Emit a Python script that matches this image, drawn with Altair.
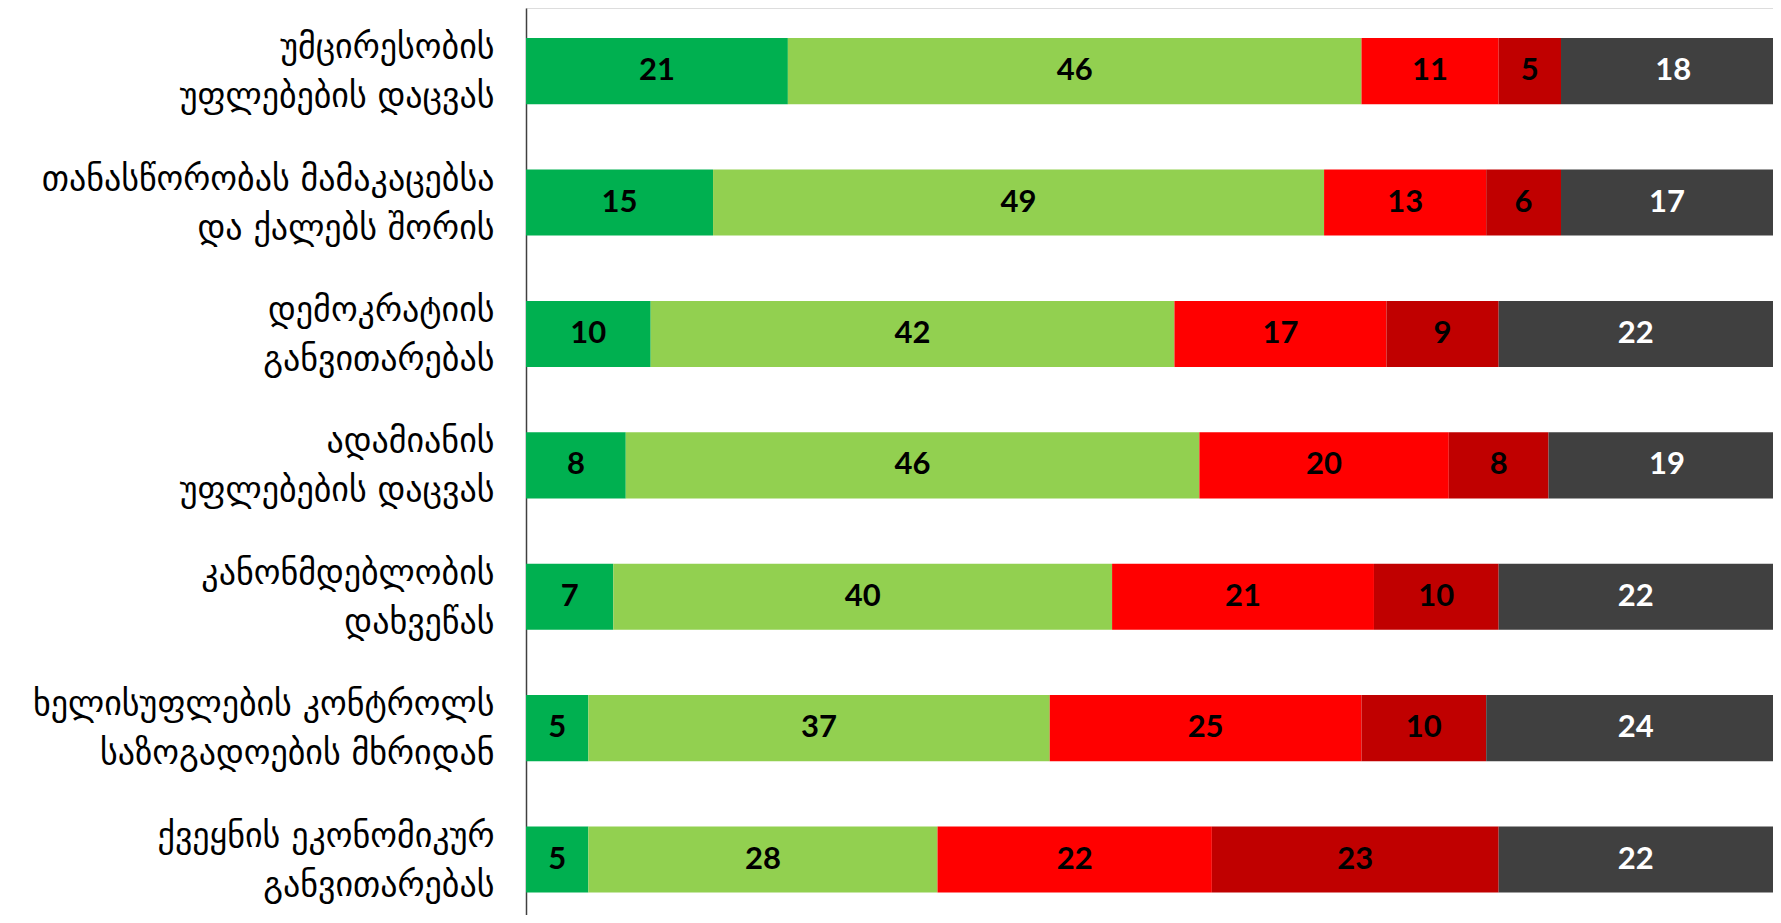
import altair as alt
import pandas as pd

categories = [
    "უმცირესობის|უფლებების დაცვას",
    "თანასწორობას მამაკაცებსა|და ქალებს შორის",
    "დემოკრატიის|განვითარებას",
    "ადამიანის|უფლებების დაცვას",
    "კანონმდებლობის|დახვეწას",
    "ხელისუფლების კონტროლს|საზოგადოების მხრიდან",
    "ქვეყნის ეკონომიკურ|განვითარებას",
]
series = ["s1", "s2", "s3", "s4", "s5"]
colors = ["#00B050", "#92D050", "#FF0000", "#C00000", "#404040"]
text_colors = ["#000000", "#000000", "#000000", "#000000", "#FFFFFF"]

dark_green = [21, 15, 10, 8, 7, 5, 5]
light_green = [46, 49, 42, 46, 40, 37, 28]
red = [11, 13, 17, 20, 21, 25, 22]
dark_red = [5, 6, 9, 8, 10, 10, 23]
gray = [18, 17, 22, 19, 22, 24, 22]

values = [dark_green, light_green, red, dark_red, gray]

rows = []
for si, (s, vals) in enumerate(zip(series, values)):
    for c, v in zip(categories, vals):
        rows.append({"cat": c, "series": s, "order": si, "value": v, "tc": text_colors[si]})
df = pd.DataFrame(rows)

yscale = alt.Scale(paddingInner=0.497, paddingOuter=0.2, align=0.573)
xscale = alt.Scale(domain=[0, 100], nice=False)

yaxis = alt.Axis(
    labelExpr="split(datum.value, '|')",
    labelFont="DejaVu Sans",
    labelFontSize=34,
    labelLineHeight=49,
    labelColor="#000000",
    labelPadding=32,
    labelOffset=-23,
    labelLimit=0,
    ticks=False,
    domainColor="#404040",
    domainWidth=1.5,
    minExtent=518,
    maxExtent=518,
    grid=False,
    title=None,
)

base = alt.Chart(df).transform_stack(
    stack="value", as_=["x0", "x1"], groupby=["cat"], sort=[alt.SortField("order")]
)

bars = base.mark_bar(clip=True).encode(
    y=alt.Y("cat:N", sort=categories, scale=yscale, axis=yaxis),
    x=alt.X("x0:Q", scale=xscale, axis=None),
    x2="x1:Q",
    color=alt.Color("series:N", scale=alt.Scale(domain=series, range=colors), legend=None),
)

labels = base.transform_calculate(mid="(datum.x0 + datum.x1) / 2").mark_text(
    font="Lato", fontWeight="bold", fontSize=31, baseline="middle", align="center"
).encode(
    y=alt.Y("cat:N", sort=categories, scale=yscale, axis=yaxis),
    x=alt.X("mid:Q", scale=xscale, axis=None),
    text=alt.Text("value:Q"),
    color=alt.Color("tc:N", scale=None),
)

chart = (
    alt.layer(bars, labels)
    .properties(
        width=1765,
        height=907,
        autosize=alt.AutoSizeParams(type="fit", contains="padding"),
        padding=0,
    )
    .configure_view(strokeWidth=0, stroke="transparent")
    .configure_axis(grid=False)
    .configure(background="white")
)

chart.save("out.html", embed_options={"renderer": "svg", "actions": False})
